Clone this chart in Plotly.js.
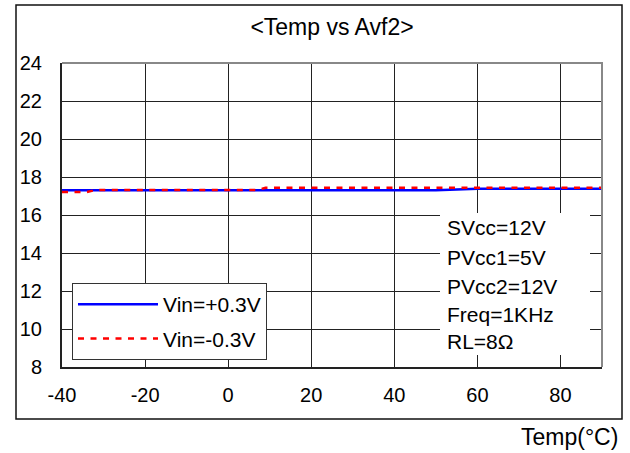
<!DOCTYPE html>
<html>
<head>
<meta charset="utf-8">
<script src="https://cdn.plot.ly/plotly-3.0.1.min.js"></script>
<style>html,body{margin:0;padding:0;background:#fff;}#chart{width:630px;height:453px;}</style>
</head>
<body>
<div id="chart"></div>
<script>
// Data
var tempPos = [-40, -20, 0, 20, 40, 50, 60, 80, 90];
var avfPos  = [17.30, 17.30, 17.30, 17.30, 17.30, 17.30, 17.38, 17.38, 17.38];
var tempNeg = [-40, -34, -32, -20, 0, 7, 9, 20, 40, 60, 80, 90];
var avfNeg  = [17.21, 17.21, 17.31, 17.31, 17.31, 17.31, 17.43, 17.43, 17.43, 17.43, 17.43, 17.43];
var seriesNames = ['Vin=+0.3V', 'Vin=-0.3V'];
var xTicks = [-40, -20, 0, 20, 40, 60, 80];
var yTicks = [8, 10, 12, 14, 16, 18, 20, 22, 24];
var conditions = ['SVcc=12V', 'PVcc1=5V', 'PVcc2=12V', 'Freq=1KHz', 'RL=8\u03A9'];

var FONT = 'Liberation Sans, Arial, sans-serif';

var traces = [
  {x: tempPos, y: avfPos, name: seriesNames[0], mode: 'lines', legendgroup: 'a',
   line: {color: '#0000FF', width: 2.5}},
  {x: tempNeg, y: avfNeg, name: seriesNames[1], mode: 'lines', legendgroup: 'b',
   line: {color: '#FF0000', width: 2.5, dash: '6px,6.5px'}}
];

// Plot area: 62..602 px horizontally, 63..367 px vertically
var annotations = [];
var condY = [227, 257, 286, 314, 341];
for (var i = 0; i < conditions.length; i++) {
  annotations.push({
    xref: 'paper', yref: 'paper', x: (445 - 62) / 540, y: (367 - condY[i]) / 304,
    xanchor: 'left', yanchor: 'middle', showarrow: false, text: conditions[i],
    font: {family: FONT, size: 21, color: '#000'}
  });
}
annotations.push({
  xref: 'paper', yref: 'paper', x: (620 - 62) / 540, y: (367 - 437) / 304,
  xanchor: 'right', yanchor: 'middle', showarrow: false, text: 'Temp(\u00B0C)',
  font: {family: FONT, size: 23, color: '#000'}
});

var layout = {
  width: 630, height: 453,
  margin: {l: 62, r: 28, t: 63, b: 86},
  paper_bgcolor: '#fff', plot_bgcolor: '#fff',
  font: {family: FONT, size: 20, color: '#000'},
  title: {text: '&lt;Temp vs Avf2&gt;', x: 0.5, xanchor: 'center', xref: 'paper',
          y: 1 - 27 / 453, yanchor: 'middle', yref: 'container',
          font: {family: FONT, size: 23, color: '#000'}},
  showlegend: true,
  legend: {x: (72 - 62) / 540, y: (367 - 283) / 304, xanchor: 'left', yanchor: 'top',
           bgcolor: '#fff', bordercolor: '#333', borderwidth: 1,
           font: {family: FONT, size: 21, color: '#000'}, itemwidth: 80,
           tracegroupgap: 4},
  xaxis: {range: [-40, 90], tickvals: xTicks, ticktext: xTicks.map(String),
          showgrid: true, gridcolor: '#222', gridwidth: 1, zeroline: false,
          showline: true, linecolor: '#222', linewidth: 2, ticks: '',
          ticklabelstandoff: 9, tickfont: {family: FONT, size: 20, color: '#000'}},
  yaxis: {range: [8, 24], tickvals: yTicks, ticktext: yTicks.map(String),
          showgrid: true, gridcolor: '#222', gridwidth: 1, zeroline: false,
          showline: true, linecolor: '#222', linewidth: 2, ticks: '',
          ticklabelstandoff: 14, tickfont: {family: FONT, size: 20, color: '#000'}},
  shapes: [
    {type: 'path', xref: 'paper', yref: 'paper', path: 'M0,1 L1,1 L1,0',
     line: {color: '#888', width: 2}, layer: 'above'},
    {type: 'rect', xref: 'paper', yref: 'paper',
     x0: (440 - 62) / 540, x1: (590 - 62) / 540, y0: (367 - 355) / 304, y1: (367 - 213) / 304,
     fillcolor: '#fff', line: {width: 0}, layer: 'above'},
    {type: 'rect', xref: 'paper', yref: 'paper',
     x0: (16 - 62) / 540, x1: (622 - 62) / 540, y0: (367 - 419) / 304, y1: (367 - 5) / 304,
     line: {color: '#111', width: 1.5}, layer: 'above'}
  ],
  annotations: annotations
};

Plotly.newPlot('chart', traces, layout, {displayModeBar: false, staticPlot: true});
</script>
</body>
</html>
